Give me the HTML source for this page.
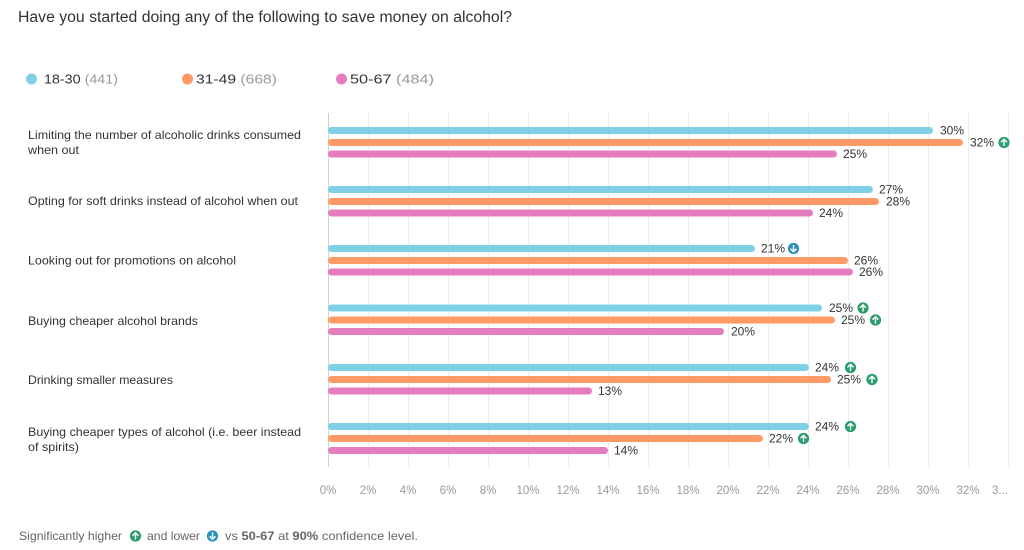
<!DOCTYPE html>
<html><head><meta charset="utf-8"><style>
html,body{margin:0;padding:0;background:#fff;}
svg{display:block;font-family:"Liberation Sans",Arial,sans-serif;}
</style></head><body>
<svg width="1024" height="550" viewBox="0 0 1024 550" xmlns="http://www.w3.org/2000/svg">
<defs>
<g id="up"><circle r="5.6" fill="#2a9d6c"/><path d="M0,3 V-3 M-2.6,-0.6 L0,-3.2 L2.6,-0.6" stroke="#fff" stroke-width="1.4" fill="none" stroke-linecap="round" stroke-linejoin="round"/></g>
<g id="dn"><circle r="5.6" fill="#2a93ba"/><path d="M0,-3 V3 M-2.6,0.6 L0,3.2 L2.6,0.6" stroke="#fff" stroke-width="1.4" fill="none" stroke-linecap="round" stroke-linejoin="round"/></g>
</defs>
<text x="18" y="22" font-size="15.5" fill="#333" textLength="494" lengthAdjust="spacingAndGlyphs">Have you started doing any of the following to save money on alcohol?</text>
<!-- legend -->
<circle cx="31.5" cy="79" r="5.5" fill="#80d0e5"/>
<text x="44" y="83.5" font-size="13" fill="#333" textLength="74" lengthAdjust="spacingAndGlyphs">18-30 <tspan fill="#999">(441)</tspan></text>
<circle cx="187.5" cy="79" r="5.5" fill="#ff9a66"/>
<text x="196" y="83.5" font-size="13" fill="#333" textLength="81" lengthAdjust="spacingAndGlyphs">31-49 <tspan fill="#999">(668)</tspan></text>
<circle cx="341.5" cy="79" r="5.5" fill="#e57cbd"/>
<text x="350" y="83.5" font-size="13" fill="#333" textLength="84" lengthAdjust="spacingAndGlyphs">50-67 <tspan fill="#999">(484)</tspan></text>
<!-- grid -->
<g stroke="#ececec" stroke-width="1">
<line x1="368.5" y1="113" x2="368.5" y2="467"/><line x1="408.5" y1="113" x2="408.5" y2="467"/><line x1="448.5" y1="113" x2="448.5" y2="467"/><line x1="488.5" y1="113" x2="488.5" y2="467"/><line x1="528.5" y1="113" x2="528.5" y2="467"/><line x1="568.5" y1="113" x2="568.5" y2="467"/><line x1="608.5" y1="113" x2="608.5" y2="467"/><line x1="648.5" y1="113" x2="648.5" y2="467"/><line x1="688.5" y1="113" x2="688.5" y2="467"/><line x1="728.5" y1="113" x2="728.5" y2="467"/><line x1="768.5" y1="113" x2="768.5" y2="467"/><line x1="808.5" y1="113" x2="808.5" y2="467"/><line x1="848.5" y1="113" x2="848.5" y2="467"/><line x1="888.5" y1="113" x2="888.5" y2="467"/><line x1="928.5" y1="113" x2="928.5" y2="467"/><line x1="968.5" y1="113" x2="968.5" y2="467"/><line x1="1008.5" y1="113" x2="1008.5" y2="467"/>
</g>
<line x1="328.5" y1="113" x2="328.5" y2="467" stroke="#d0d0d0" stroke-width="1"/>
<!-- axis labels -->
<g font-size="11.5" fill="#9a9a9a" text-anchor="middle">
<text x="328" y="494">0%</text><text x="368" y="494">2%</text><text x="408" y="494">4%</text><text x="448" y="494">6%</text><text x="488" y="494">8%</text><text x="528" y="494">10%</text><text x="568" y="494">12%</text><text x="608" y="494">14%</text><text x="648" y="494">16%</text><text x="688" y="494">18%</text><text x="728" y="494">20%</text><text x="768" y="494">22%</text><text x="808" y="494">24%</text><text x="848" y="494">26%</text><text x="888" y="494">28%</text><text x="928" y="494">30%</text><text x="968" y="494">32%</text><text x="1000" y="494">3...</text>
</g>
<!-- category labels -->
<g font-size="12" fill="#333" lengthAdjust="spacingAndGlyphs">
<text x="28" y="139" textLength="273" lengthAdjust="spacingAndGlyphs">Limiting the number of alcoholic drinks consumed</text>
<text x="28" y="154" textLength="51" lengthAdjust="spacingAndGlyphs">when out</text>
<text x="28" y="205" textLength="270" lengthAdjust="spacingAndGlyphs">Opting for soft drinks instead of alcohol when out</text>
<text x="28" y="264.5" textLength="208" lengthAdjust="spacingAndGlyphs">Looking out for promotions on alcohol</text>
<text x="28" y="325" textLength="170" lengthAdjust="spacingAndGlyphs">Buying cheaper alcohol brands</text>
<text x="28" y="384" textLength="145" lengthAdjust="spacingAndGlyphs">Drinking smaller measures</text>
<text x="28" y="436" textLength="273" lengthAdjust="spacingAndGlyphs">Buying cheaper types of alcohol (i.e. beer instead</text>
<text x="28" y="451" textLength="51" lengthAdjust="spacingAndGlyphs">of spirits)</text>
</g>
<!-- bars -->
<g>
<rect x="328" y="127" width="605" height="7" rx="3.5" fill="#80d0e5"/>
<rect x="328" y="139" width="635" height="7" rx="3.5" fill="#ff9a66"/>
<rect x="328" y="150.5" width="509" height="7" rx="3.5" fill="#e57cbd"/>
<rect x="328" y="186" width="545" height="7" rx="3.5" fill="#80d0e5"/>
<rect x="328" y="198" width="551" height="7" rx="3.5" fill="#ff9a66"/>
<rect x="328" y="209.5" width="485" height="7" rx="3.5" fill="#e57cbd"/>
<rect x="328" y="245" width="427" height="7" rx="3.5" fill="#80d0e5"/>
<rect x="328" y="257" width="520" height="7" rx="3.5" fill="#ff9a66"/>
<rect x="328" y="268.5" width="525" height="7" rx="3.5" fill="#e57cbd"/>
<rect x="328" y="304.5" width="494" height="7" rx="3.5" fill="#80d0e5"/>
<rect x="328" y="316.5" width="507" height="7" rx="3.5" fill="#ff9a66"/>
<rect x="328" y="328" width="396" height="7" rx="3.5" fill="#e57cbd"/>
<rect x="328" y="364" width="481" height="7" rx="3.5" fill="#80d0e5"/>
<rect x="328" y="376" width="503" height="7" rx="3.5" fill="#ff9a66"/>
<rect x="328" y="387.5" width="264" height="7" rx="3.5" fill="#e57cbd"/>
<rect x="328" y="423" width="481" height="7" rx="3.5" fill="#80d0e5"/>
<rect x="328" y="435" width="435" height="7" rx="3.5" fill="#ff9a66"/>
<rect x="328" y="447" width="280" height="7" rx="3.5" fill="#e57cbd"/>
</g>
<!-- value labels -->
<g font-size="12" fill="#333">
<text x="940" y="134.5">30%</text>
<text x="970" y="146.5">32%</text>
<text x="843" y="158">25%</text>
<text x="879" y="193.5">27%</text>
<text x="886" y="205.5">28%</text>
<text x="819" y="217">24%</text>
<text x="761" y="252.5">21%</text>
<text x="854" y="264.5">26%</text>
<text x="859" y="276">26%</text>
<text x="829" y="312">25%</text>
<text x="841" y="324">25%</text>
<text x="731" y="335.5">20%</text>
<text x="815" y="371.5">24%</text>
<text x="837" y="383.5">25%</text>
<text x="598" y="395">13%</text>
<text x="815" y="430.5">24%</text>
<text x="769" y="442.5">22%</text>
<text x="614" y="454.5">14%</text>
</g>
<!-- icons -->
<use href="#up" x="1004" y="142.5"/>
<use href="#dn" x="793.5" y="248.5"/>
<use href="#up" x="863" y="308"/>
<use href="#up" x="875.5" y="320"/>
<use href="#up" x="850.5" y="367.5"/>
<use href="#up" x="872" y="379.5"/>
<use href="#up" x="850.5" y="426.5"/>
<use href="#up" x="803.5" y="438.5"/>
<!-- footer -->
<g font-size="12" fill="#666">
<text x="19" y="540" textLength="103" lengthAdjust="spacingAndGlyphs">Significantly higher</text>
<text x="147" y="540" textLength="53" lengthAdjust="spacingAndGlyphs">and lower</text>
<text x="225" y="540" textLength="193" lengthAdjust="spacingAndGlyphs">vs <tspan font-weight="bold">50-67</tspan> at <tspan font-weight="bold">90%</tspan> confidence level.</text>
</g>
<use href="#up" x="135.5" y="536"/>
<use href="#dn" x="212.5" y="536"/>
</svg>
</body></html>
